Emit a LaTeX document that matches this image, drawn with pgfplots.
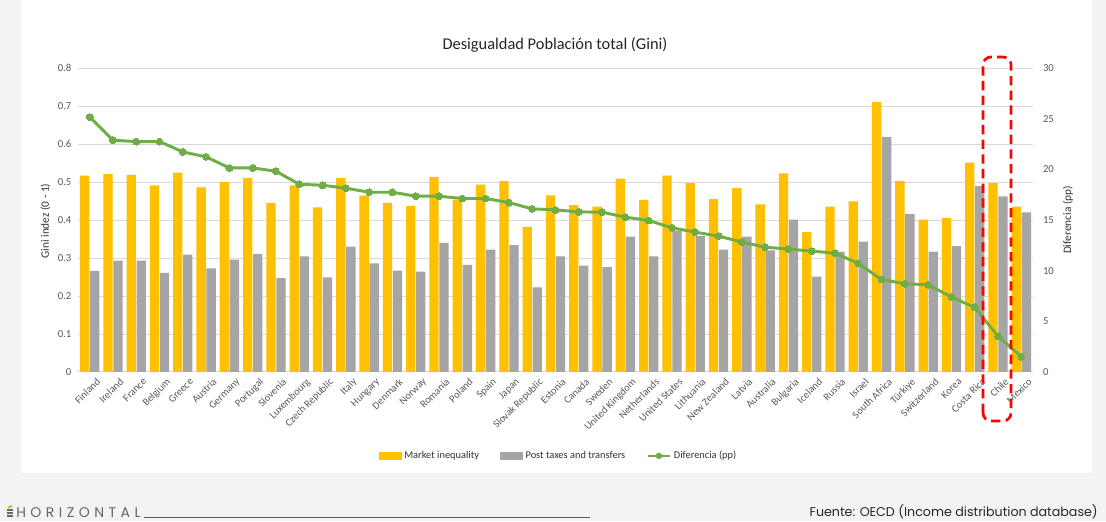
\documentclass[border=0pt]{standalone}
\usepackage{fontspec}
\setmainfont{Carlito}
\newfontfamily\pop{Poppins}
\usepackage{pgfplots}
\pgfplotsset{compat=1.18}
\usepackage{pgfplotstable}
\definecolor{myyel}{HTML}{FFC000}
\definecolor{mygrey}{HTML}{A5A5A5}
\definecolor{mygreen}{HTML}{70AD47}
\definecolor{gridc}{HTML}{D9D9D9}
\definecolor{bgc}{HTML}{F3F3F3}
\definecolor{txt}{HTML}{595959}

\pgfplotstableread{
x m p d
0 0.517 0.266 25.17
1 0.521 0.293 22.87
2 0.519 0.293 22.74
3 0.491 0.261 22.74
4 0.525 0.309 21.72
5 0.486 0.273 21.23
6 0.500 0.296 20.14
7 0.511 0.311 20.14
8 0.445 0.247 19.81
9 0.491 0.304 18.53
10 0.433 0.249 18.43
11 0.511 0.330 18.14
12 0.464 0.286 17.74
13 0.445 0.267 17.74
14 0.437 0.264 17.35
15 0.513 0.340 17.35
16 0.453 0.282 17.12
17 0.493 0.322 17.12
18 0.502 0.334 16.72
19 0.382 0.223 16.10
20 0.465 0.304 16.00
21 0.439 0.280 15.80
22 0.435 0.276 15.77
23 0.509 0.356 15.28
24 0.453 0.304 14.95
25 0.517 0.372 14.23
26 0.497 0.358 13.80
27 0.455 0.322 13.41
28 0.484 0.356 12.82
29 0.441 0.320 12.32
30 0.523 0.401 12.13
31 0.368 0.251 11.93
32 0.435 0.317 11.73
33 0.449 0.343 10.71
34 0.711 0.619 9.13
35 0.502 0.416 8.71
36 0.401 0.317 8.61
37 0.405 0.331 7.39
38 0.551 0.489 6.37
39 0.497 0.462 3.52
40 0.435 0.420 1.51
}\data

\pgfplotsset{
  common/.style={
    scale only axis, width=716.25pt, height=228pt,
    at={(58.5pt,111.75pt)}, anchor=south west,
    xmin=-0.5, xmax=40.5,
    axis line style={draw=none}, tick style={draw=none},
    /pgf/number format/assume math mode=true,
    ticklabel style={font=\fontsize{8}{9}\selectfont, text=txt},
  }
}

\begin{document}
\begin{tikzpicture}[x=0.75pt,y=0.75pt]
\fill[bgc] (0,0) rectangle (1106,521);
\fill[white] (21,48) rectangle (1092,521);
\node[font=\fontsize{12.3}{14}\selectfont, text=black!85] at (555,476) {Desigualdad Población total (Gini)};
\node[rotate=90, font=\fontsize{8.5}{10}\selectfont, text=black!80] at (45.5,300) {Gini indez (0 - 1)};
\node[rotate=90, font=\fontsize{8.5}{10}\selectfont, text=black!80] at (1068,301) {Diferencia (pp)};

\begin{axis}[common,
  ymin=0, ymax=0.8,
  ytick={0,0.1,0.2,0.3,0.4,0.5,0.6,0.7,0.8},
  yticklabels={0,0.1,0.2,0.3,0.4,0.5,0.6,0.7,0.8},
  ymajorgrids, grid style={gridc, line width=0.75pt},
  xtick={0,...,40},
  xticklabels={Finland,Ireland,France,Belgium,Greece,Austria,Germany,Portugal,Slovenia,Luxembourg,Czech Republic,Italy,Hungary,Denmark,Norway,Romania,Poland,Spain,Japan,Slovak Republic,Estonia,Canada,Sweden,United Kingdom,Netherlands,United States,Lithuania,New Zealand,Latvia,Australia,Bulgaria,Iceland,Russia,Israel,South Africa,Türkiye,Switzerland,Korea,Costa Rica,Chile,Mexico},
  xticklabel style={rotate=45, anchor=north east, inner sep=1pt, font=\fontsize{7.8}{9}\selectfont, text=txt, yshift=-5pt, xshift=1.5pt},
  yticklabel style={xshift=-1.5pt},
]
\addplot[ybar, bar width=7pt, bar shift=-3.75pt, fill=myyel, draw=none] table[x=x,y=m]{\data};
\addplot[ybar, bar width=7pt, bar shift=3.75pt, fill=mygrey, draw=none] table[x=x,y=p]{\data};
\end{axis}

\begin{axis}[common,
  ymin=0, ymax=30,
  ytick={0,5,10,15,20,25,30},
  yticklabel pos=right,
  xtick=\empty,
  yticklabel style={xshift=4pt},
  legend columns=3,
  legend style={at={(0.5037,-0.276)}, anchor=center, draw=none, fill=none,
    font=\fontsize{7.8}{9}\selectfont, text=black!80,
    /tikz/every even column/.append style={column sep=14pt}},
]
\addlegendimage{legend image code/.code={\fill[myyel] (0pt,-2.6pt) rectangle (16.5pt,2.6pt);}}
\addlegendentry{Market inequality}
\addlegendimage{legend image code/.code={\fill[mygrey] (0pt,-2.6pt) rectangle (16.5pt,2.6pt);}}
\addlegendentry{Post taxes and transfers}
\addlegendimage{legend image code/.code={\draw[mygreen, line width=2pt] (0pt,0pt) -- (16.5pt,0pt); \fill[mygreen] (8.25pt,0pt) circle (2.2pt);}}
\addlegendentry{Diferencia (pp)}
\addplot[mygreen, line width=2.2pt, mark=*, mark size=2.6pt, mark options={fill=mygreen, draw=mygreen, line width=0pt}] table[x=x,y=d]{\data};
\end{axis}

\draw[red, line width=2pt, dash pattern=on 7pt off 4pt, rounded corners=6pt] (983,100) rectangle (1011,464);

% footer
\draw[myyel!70!mygreen, line width=1.5] (8,13.5) -- (12,15);
\foreach \yy in {11,8,5} {\draw[black!60, line width=1.3] (7,\yy) -- (13,\yy);}
\node[anchor=west, font=\pop\fontsize{10.5}{12}\selectfont\addfontfeatures{LetterSpace=32}, text=black!60, inner sep=0] at (16,8.5) {HORIZONTAL};
\draw[black!65, line width=0.7] (144,4) -- (590,4);
\node[anchor=east, font=\pop\fontsize{9.5}{11}\selectfont, text=black!85, inner sep=0] at (1098,9) {Fuente: OECD (Income distribution database)};
\end{tikzpicture}
\end{document}
